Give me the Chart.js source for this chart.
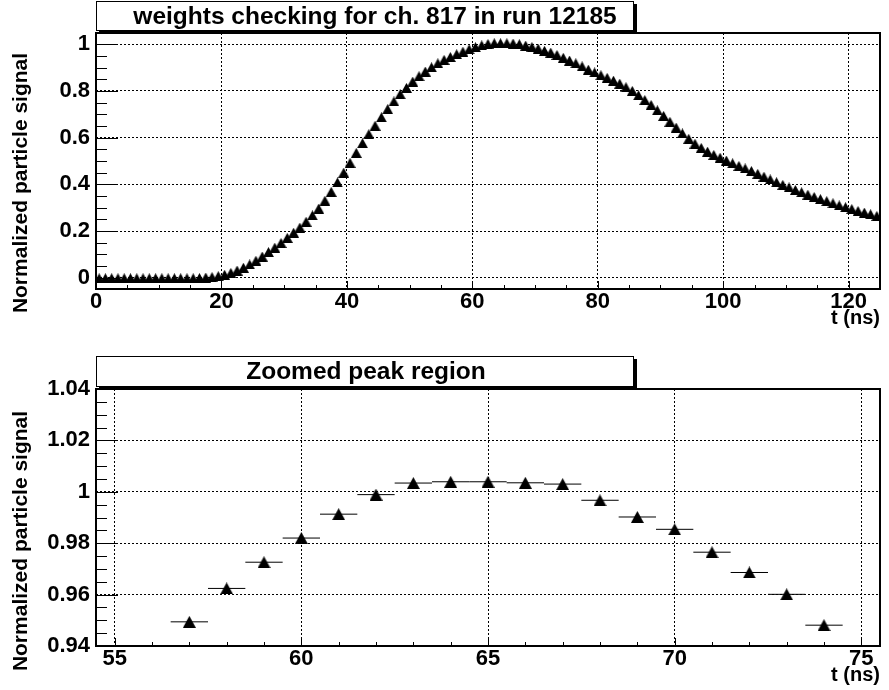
<!DOCTYPE html>
<html>
<head>
<meta charset="utf-8">
<script src="https://cdn.jsdelivr.net/npm/chart.js@4.4.1/dist/chart.umd.min.js"></script>
<style>
  body { margin: 0; background: #fff; }
  canvas { display: block; }
</style>
</head>
<body>
<canvas id="full" width="889" height="345"></canvas>
<canvas id="zoom" width="889" height="345"></canvas>
<script>
// full pulse, bin centres in ns
const fullTime = [
  0.5, 1.5, 2.5, 3.5, 4.5, 5.5, 6.5, 7.5, 8.5, 9.5, 10.5, 11.5, 12.5, 13.5, 14.5, 15.5,
  16.5, 17.5, 18.5, 19.5, 20.5, 21.5, 22.5, 23.5, 24.5, 25.5, 26.5, 27.5, 28.5, 29.5,
  30.5, 31.5, 32.5, 33.5, 34.5, 35.5, 36.5, 37.5, 38.5, 39.5, 40.5, 41.5, 42.5, 43.5,
  44.5, 45.5, 46.5, 47.5, 48.5, 49.5, 50.5, 51.5, 52.5, 53.5, 54.5, 55.5, 56.5, 57.5,
  58.5, 59.5, 60.5, 61.5, 62.5, 63.5, 64.5, 65.5, 66.5, 67.5, 68.5, 69.5, 70.5, 71.5,
  72.5, 73.5, 74.5, 75.5, 76.5, 77.5, 78.5, 79.5, 80.5, 81.5, 82.5, 83.5, 84.5, 85.5,
  86.5, 87.5, 88.5, 89.5, 90.5, 91.5, 92.5, 93.5, 94.5, 95.5, 96.5, 97.5, 98.5, 99.5,
  100.5, 101.5, 102.5, 103.5, 104.5, 105.5, 106.5, 107.5, 108.5, 109.5, 110.5, 111.5,
  112.5, 113.5, 114.5, 115.5, 116.5, 117.5, 118.5, 119.5, 120.5, 121.5, 122.5, 123.5, 124.5
];
const fullSignal = [
  -0.002, -0.002, -0.002, -0.002, -0.002, -0.002, -0.002, -0.002, -0.002, -0.002, -0.002, -0.002, -0.002, -0.002, -0.002, -0.002,
  -0.001, 0.001, 0.003, 0.007, 0.013, 0.021, 0.031, 0.043, 0.057, 0.073, 0.091, 0.110, 0.129, 0.149,
  0.171, 0.193, 0.215, 0.240, 0.267, 0.296, 0.330, 0.368, 0.408, 0.450, 0.492, 0.535, 0.576, 0.615,
  0.651, 0.687, 0.722, 0.755, 0.786, 0.813, 0.840, 0.863, 0.883, 0.901, 0.918, 0.933, 0.945, 0.957,
  0.968, 0.978, 0.987, 0.995, 1.001, 1.004, 1.004, 1.004, 1.003, 1.000, 0.994, 0.988, 0.981, 0.972,
  0.964, 0.954, 0.942, 0.930, 0.918, 0.905, 0.891, 0.879, 0.867, 0.856, 0.844, 0.831, 0.816, 0.800,
  0.781, 0.761, 0.740, 0.717, 0.693, 0.668, 0.643, 0.618, 0.595, 0.574, 0.556, 0.540, 0.526, 0.514,
  0.502, 0.490, 0.479, 0.468, 0.457, 0.445, 0.433, 0.421, 0.409, 0.398, 0.387, 0.376,
  0.366, 0.356, 0.346, 0.337, 0.328, 0.319, 0.310, 0.302, 0.294, 0.286, 0.279, 0.272, 0.265
];
const fullXTicks = [0, 20, 40, 60, 80, 100, 120];
const fullYTicks = [0, 0.2, 0.4, 0.6, 0.8, 1];

// peak region
const zoomTime = [57, 58, 59, 60, 61, 62, 63, 64, 65, 66, 67, 68, 69, 70, 71, 72, 73, 74];
const zoomSignal = [0.9494, 0.9624, 0.9726, 0.9820, 0.9913, 0.9989, 1.0034, 1.0039, 1.0039,
  1.0035, 1.0030, 0.9967, 0.9902, 0.9854, 0.9765, 0.9686, 0.9601, 0.9481];
const zoomXTicks = [55, 60, 65, 70, 75];
const zoomYTicks = [0.94, 0.96, 0.98, 1, 1.02, 1.04];

const FONT = "'Liberation Sans', Arial, sans-serif";

function triangleMarker(w, h) {
  const c = document.createElement('canvas');
  c.width = w; c.height = h;
  const g = c.getContext('2d');
  g.fillStyle = '#000';
  g.beginPath();
  g.moveTo(w / 2, 0);
  g.lineTo(w, h);
  g.lineTo(0, h);
  g.closePath();
  g.fill();
  return c;
}

// root style frame, inner tick marks, title box and y title
const rootFrame = {
  id: 'rootFrame',
  afterDraw(chart, args, o) {
    const { ctx, chartArea: a, scales } = chart;
    ctx.save();
    ctx.strokeStyle = '#000';
    ctx.lineWidth = 1;
    ctx.beginPath();
    for (let v = o.yFrom; v <= o.yTo + 1e-9; v += o.yMinor) {
      const y = Math.round(scales.y.getPixelForValue(v)) + 0.5;
      if (y < a.top || y > a.bottom) continue;
      const major = Math.abs(v / o.yMajor - Math.round(v / o.yMajor)) < 1e-6;
      ctx.moveTo(a.left, y);
      ctx.lineTo(a.left + (major ? 22 : 11), y);
    }
    for (let v = o.xFrom; v <= o.xTo + 1e-9; v += o.xMinor) {
      const x = Math.round(scales.x.getPixelForValue(v)) + 0.5;
      if (x < a.left || x > a.right) continue;
      const major = Math.abs(v / o.xMajor - Math.round(v / o.xMajor)) < 1e-6;
      ctx.moveTo(x, a.bottom);
      ctx.lineTo(x, a.bottom - (major ? 8 : 4));
    }
    ctx.stroke();

    ctx.lineWidth = 2;
    ctx.strokeRect(a.left, a.top, a.right - a.left, a.bottom - a.top);

    // title box with shadow
    const b = o.box;
    ctx.fillStyle = '#000';
    ctx.fillRect(b.x + 3, b.y + 3, b.w, b.h);
    ctx.fillStyle = '#fff';
    ctx.fillRect(b.x, b.y, b.w, b.h);
    ctx.lineWidth = 1;
    ctx.strokeRect(b.x + 0.5, b.y + 0.5, b.w - 1, b.h - 1);
    ctx.fillStyle = '#000';
    ctx.font = 'bold 24.5px ' + FONT;
    ctx.textAlign = 'center';
    ctx.textBaseline = 'middle';
    ctx.fillText(o.title, o.titleX, b.y + b.h / 2 + 1);

    ctx.translate(27, o.yTitleCenter);
    ctx.rotate(-Math.PI / 2);
    ctx.font = 'bold 21px ' + FONT;
    ctx.textBaseline = 'alphabetic';
    ctx.fillText('Normalized particle signal', 0, 0);
    ctx.restore();
  }
};

function axes(xMin, xMax, xTicks, yMin, yMax, yTicks, xHeight, titlePad) {
  const tickFont = { family: FONT, size: 22, weight: 'bold' };
  return {
    x: {
      type: 'linear', min: xMin, max: xMax,
      afterBuildTicks: s => { s.ticks = xTicks.map(v => ({ value: v })); },
      afterFit: s => { s.height = xHeight; },
      grid: { color: '#000', lineWidth: 1, drawTicks: false },
      border: { display: false, dash: [2, 2] },
      ticks: { color: '#000', font: tickFont, padding: 0, maxRotation: 0, autoSkip: false, callback: v => String(v) },
      title: { display: true, text: 't (ns)', align: 'end', color: '#000',
        font: { family: FONT, size: 20, weight: 'bold' }, padding: { top: titlePad, bottom: titlePad } }
    },
    y: {
      type: 'linear', min: yMin, max: yMax,
      afterBuildTicks: s => { s.ticks = yTicks.map(v => ({ value: v })); },
      afterFit: s => { s.width = 96; },
      grid: { color: '#000', lineWidth: 1, drawTicks: false },
      border: { display: false, dash: [2, 2] },
      ticks: { color: '#000', font: tickFont, padding: 6, autoSkip: false, callback: v => String(v) }
    }
  };
}

new Chart(document.getElementById('full'), {
  type: 'scatter',
  data: {
    datasets: [{
      data: fullTime.map((t, i) => ({ x: t, y: fullSignal[i] })),
      pointStyle: triangleMarker(11, 10),
      pointRadius: 5,
      backgroundColor: '#000',
      borderWidth: 0
    }]
  },
  options: {
    responsive: false,
    animation: false,
    devicePixelRatio: 1,
    layout: { padding: { left: 0, right: 9, top: 33, bottom: 0 } },
    plugins: {
      legend: { display: false },
      tooltip: { enabled: false },
      rootFrame: {
        title: 'weights checking for ch. 817 in run 12185',
        titleX: 375,
        box: { x: 96, y: 1, w: 538, h: 30 },
        yTitleCenter: 183,
        yFrom: -0.05, yTo: 1.05, yMinor: 0.05, yMajor: 0.2,
        xFrom: 0, xTo: 125, xMinor: 5, xMajor: 20
      }
    },
    scales: axes(0, 125, fullXTicks, -0.048, 1.048, fullYTicks, 56, 15)
  },
  plugins: [rootFrame]
});

new Chart(document.getElementById('zoom'), {
  type: 'scatter',
  data: {
    datasets: [{
      data: zoomTime.map((t, i) => ({ x: t, y: zoomSignal[i] })),
      pointStyle: triangleMarker(13, 12),
      pointRadius: 6,
      backgroundColor: '#000',
      borderWidth: 0
    }, {
      // bin width bars
      data: zoomTime.flatMap((t, i) => [
        { x: t - 0.5, y: zoomSignal[i] }, { x: t + 0.5, y: zoomSignal[i] }, { x: t + 0.5, y: null }
      ]),
      showLine: true,
      spanGaps: false,
      pointRadius: 0,
      borderColor: '#000',
      borderWidth: 1
    }]
  },
  options: {
    responsive: false,
    animation: false,
    devicePixelRatio: 1,
    layout: { padding: { left: 0, right: 9, top: 44, bottom: 0 } },
    plugins: {
      legend: { display: false },
      tooltip: { enabled: false },
      rootFrame: {
        title: 'Zoomed peak region',
        titleX: 366,
        box: { x: 96, y: 11, w: 538, h: 31 },
        yTitleCenter: 196,
        yFrom: 0.94, yTo: 1.04, yMinor: 0.005, yMajor: 0.02,
        xFrom: 55, xTo: 75, xMinor: 1, xMajor: 5
      }
    },
    scales: axes(54.5, 75.5, zoomXTicks, 0.94, 1.04, zoomYTicks, 44, 3)
  },
  plugins: [rootFrame]
});
</script>
</body>
</html>
